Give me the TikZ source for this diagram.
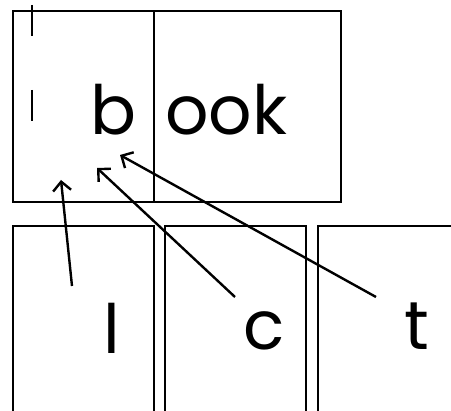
\documentclass[tikz,border=0pt]{standalone}
\usepackage{fontspec}
\setmainfont{Poppins}
\usetikzlibrary{positioning, arrows.meta}
\tikzset{
  cell/.style={draw, line width=2.6pt},
  bar/.style={line width=1.8pt},
  letter/.style={font=\fontsize{68}{72}\selectfont, inner sep=0pt, anchor=base},
  hop/.style={line width=2.4pt, -{Straight Barb[length=9pt,width=18pt]}}}

\begin{document}
\begin{tikzpicture}[x=1pt,y=-1pt]
\useasboundingbox (0,0) rectangle (451,411);
\clip (0,0) rectangle (451,411);
% top word
\draw [cell] (13,11) rectangle (341,202);
\draw [cell] (154,11) -- (154,202);
\draw [bar] (32,5) -- (32,36);
\draw [bar] (32,90) -- (32,121);
\node [letter] (b) at (113,135) {b};
\node [letter] (ook) at (226.5,135) {ook};
% bottom cells
\draw [cell] (13,430) |- (154,226) -- (154,430);
\draw [cell] (165,430) |- (306,226) -- (306,430);
\draw [cell] (318,430) |- (460,226);
\node [letter] (l) at (112,354) {l};
\node [letter] (c) at (264,350) {c};
\node [letter] (t) at (417,350) {t};
% arrows
\coordinate (l1) at (72,286);
\coordinate (c1) at (235,297);
\coordinate (t1) at (376,297);
\coordinate (l2) at (61,180);
\coordinate (c2) at (97,168);
\coordinate (t2) at (120,155);
\draw [hop] (l1) -- (l2);
\draw [hop] (c1) -- (c2);
\draw [hop] (t1) -- (t2);
\end{tikzpicture}
\end{document}
